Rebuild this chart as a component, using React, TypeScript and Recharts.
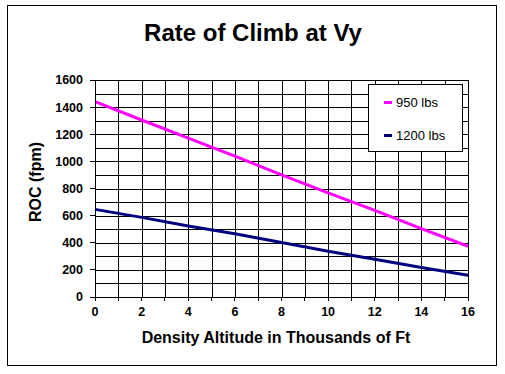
import React from 'react';
import { LineChart, Line, XAxis, YAxis, CartesianGrid, Legend } from 'recharts';

const altitude = [0, 2, 4, 6, 8, 10, 12, 14, 16];
const roc950 = [1440, 1305, 1172, 1038, 900, 768, 638, 504, 374];
const roc1200 = [646, 587, 523, 466, 402, 338, 278, 218, 161];
const seriesNames = ['950 lbs', '1200 lbs'];

const xTicks = [0, 1, 2, 3, 4, 5, 6, 7, 8, 9, 10, 11, 12, 13, 14, 15, 16];
const yTicks = [0, 200, 400, 600, 800, 1000, 1200, 1400, 1600];
const yGrid = [0, 100, 200, 300, 400, 500, 600, 700, 800, 900, 1000, 1100, 1200, 1300, 1400, 1500, 1600];

const data = altitude.map((a, i) => ({ alt: a, w950: roc950[i], w1200: roc1200[i] }));

const FONT = '"Liberation Sans", Arial, sans-serif';

const snap = (v: number) => Math.round(v) + 0.5;

const hLine = (p: any) => (
  <line
    key={`h-${p.index}-${p.y1}`}
    x1={Math.round(p.x1)}
    x2={Math.round(p.x2) + 1}
    y1={snap(p.y1)}
    y2={snap(p.y2)}
    stroke="#000"
    strokeWidth={1}
    shapeRendering="crispEdges"
  />
);

const vLine = (p: any) => (
  <line
    key={`v-${p.index}-${p.x1}`}
    x1={snap(p.x1)}
    x2={snap(p.x2)}
    y1={Math.round(p.y1)}
    y2={Math.round(p.y2) + 1}
    stroke="#000"
    strokeWidth={1}
    shapeRendering="crispEdges"
  />
);

const renderLegend = (props: any) => {
  const payload = [...(props.payload || [])].sort(
    (a: any, b: any) => seriesNames.indexOf(a.value) - seriesNames.indexOf(b.value)
  );
  return (
    <div
      style={{
        width: 95,
        height: 68,
        border: '1px solid #000',
        boxSizing: 'border-box',
        background: '#fff',
        position: 'relative',
        fontFamily: FONT,
        fontSize: 13,
      }}
    >
      {payload.map((p: any, i: number) => (
        <div
          key={p.value}
          style={{
            position: 'absolute',
            left: 15,
            top: i === 0 ? 8 : 41,
            height: 18,
            display: 'flex',
            alignItems: 'center',
            whiteSpace: 'nowrap',
            color: '#000',
          }}
        >
          <span style={{ display: 'inline-block', width: 8, height: 3, background: p.color, marginRight: 4 }} />
          <span>{p.value}</span>
        </div>
      ))}
    </div>
  );
};

export default function App() {
  return (
    <div style={{ position: 'absolute', left: 0, top: 0, width: 505, height: 374, background: '#fff' }}>
      <div
        style={{
          position: 'absolute',
          left: 7,
          top: 5,
          width: 490,
          height: 361,
          border: '1px solid #000',
          boxSizing: 'border-box',
        }}
      />
      <LineChart
        width={505}
        height={374}
        data={data}
        margin={{ top: 80, right: 37, bottom: 0, left: 0 }}
        style={{ position: 'absolute', left: 0, top: 0 }}
      >
        <CartesianGrid
          stroke="#000"
          strokeWidth={1}
          horizontalValues={yGrid}
          verticalValues={xTicks}
          horizontal={hLine as any}
          vertical={vLine as any}
        />
        <XAxis
          dataKey="alt"
          type="number"
          domain={[0, 16]}
          ticks={xTicks}
          interval={0}
          tickFormatter={(v: number) => (v % 2 === 0 ? String(v) : '')}
          height={77}
          stroke="#000"
          axisLine={{ stroke: '#000', shapeRendering: 'crispEdges' } as any}
          tickLine={{ stroke: '#000', shapeRendering: 'crispEdges' } as any}
          tickSize={4}
          tickMargin={6}
          tick={{ fill: '#000', fontSize: 12.5, fontWeight: 'bold', fontFamily: FONT }}
        />
        <YAxis
          type="number"
          domain={[0, 1600]}
          ticks={yTicks}
          interval={0}
          width={95}
          stroke="#000"
          axisLine={{ stroke: '#000', shapeRendering: 'crispEdges' } as any}
          tickLine={{ stroke: '#000', shapeRendering: 'crispEdges' } as any}
          tickSize={5}
          tickMargin={7}
          tick={{ fill: '#000', fontSize: 12.5, fontWeight: 'bold', fontFamily: FONT }}
        />
        <Legend
          layout="horizontal"
          verticalAlign="middle"
          align="center"
          wrapperStyle={{ left: 368, top: 84, width: 95, height: 68 }}
          content={renderLegend}
        />
        <Line
          type="linear"
          dataKey="w950"
          name={seriesNames[0]}
          stroke="#FF00FF"
          strokeWidth={3}
          dot={false}
          isAnimationActive={false}
        />
        <Line
          type="linear"
          dataKey="w1200"
          name={seriesNames[1]}
          stroke="#000080"
          strokeWidth={3}
          dot={false}
          isAnimationActive={false}
        />
      </LineChart>
      <div
        style={{
          position: 'absolute',
          left: 0,
          width: 506,
          top: 19,
          textAlign: 'center',
          fontFamily: FONT,
          fontWeight: 'bold',
          fontSize: 24,
          lineHeight: '28px',
          color: '#000',
        }}
      >
        Rate of Climb at Vy
      </div>
      <div
        style={{
          position: 'absolute',
          left: 76,
          width: 400,
          top: 328,
          textAlign: 'center',
          fontFamily: FONT,
          fontWeight: 'bold',
          fontSize: 16,
          lineHeight: '20px',
          color: '#000',
        }}
      >
        Density Altitude in Thousands of Ft
      </div>
      <div
        style={{
          position: 'absolute',
          left: 36 - 60,
          top: 182 - 10,
          width: 120,
          height: 20,
          textAlign: 'center',
          fontFamily: FONT,
          fontWeight: 'bold',
          fontSize: 16,
          lineHeight: '20px',
          color: '#000',
          transform: 'rotate(-90deg)',
        }}
      >
        ROC (fpm)
      </div>
    </div>
  );
}
